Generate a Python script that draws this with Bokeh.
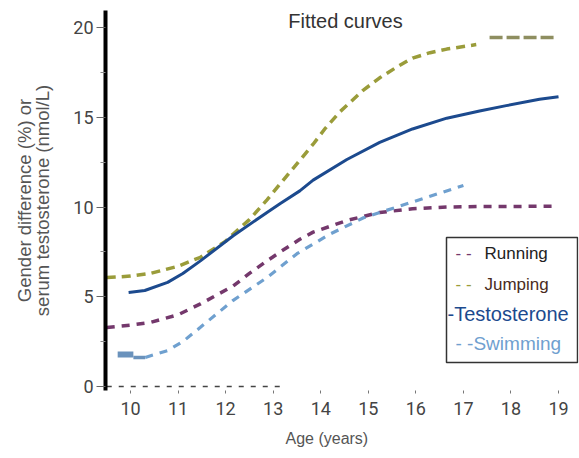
from bokeh.plotting import figure
from bokeh.models import Label, BoxAnnotation, FixedTicker, Range1d, LinearAxis, Title
from bokeh.embed import file_html
from bokeh.resources import INLINE

# ---- data ----
jump_age = [9.5, 10.0, 10.42, 11.0, 11.47, 12.0, 12.16, 12.5, 12.87, 13.15, 13.56, 13.84, 14.1, 14.4, 14.89, 15.24, 15.6, 15.93, 16.3, 16.65, 17.27]
jump_val = [6.07, 6.15, 6.3, 6.7, 7.2, 8.1, 8.5, 9.3, 10.4, 11.3, 12.6, 13.5, 14.4, 15.3, 16.5, 17.2, 17.8, 18.3, 18.6, 18.8, 19.05]
jump_tail_age = [17.55, 18.95]
jump_tail_val = [19.45, 19.45]

run_age = [9.5, 10.0, 10.42, 11.0, 11.47, 12.16, 12.5, 12.87, 13.15, 13.56, 13.84, 14.55, 15.24, 15.93, 16.65, 17.34, 18.0, 18.9]
run_val = [3.29, 3.42, 3.57, 4.0, 4.6, 5.6, 6.3, 7.0, 7.5, 8.2, 8.6, 9.25, 9.7, 9.9, 10.0, 10.03, 10.03, 10.05]

testo_age = [9.96, 10.3, 10.78, 11.1, 11.47, 12.16, 12.87, 13.15, 13.56, 13.84, 14.55, 15.24, 15.93, 16.65, 17.34, 17.9, 18.6, 19.0]
testo_val = [5.24, 5.35, 5.8, 6.3, 7.0, 8.4, 9.7, 10.2, 10.9, 11.5, 12.65, 13.6, 14.35, 14.95, 15.35, 15.65, 16.0, 16.15]

swim_bar_age = [9.73, 10.06]
swim_bar_val = [1.78, 1.78]
swim_step_age = [10.06, 10.31]
swim_step_val = [1.62, 1.62]
swim_age = [10.31, 10.78, 11.1, 11.47, 12.16, 12.87, 13.5, 14.2, 14.9, 15.6, 16.3, 17.0]
swim_val = [1.62, 2.0, 2.5, 3.3, 4.8, 6.07, 7.4, 8.5, 9.4, 10.0, 10.6, 11.2]

zero_age = [9.5, 13.2]
zero_val = [0, 0]

x_ticks = [10, 11, 12, 13, 14, 15, 16, 17, 18, 19]
y_ticks = [0, 5, 10, 15, 20]
y_minor = [2.5, 7.5, 12.5, 17.5]

C_JUMP = "#9a9c3a"
C_JUMP_TAIL = "#8e8e60"
C_RUN = "#74386c"
C_TESTO = "#1c4a8e"
C_SWIM = "#6fa0cf"
C_SWIM_BAR = "#6a92bc"

TICKF = "Roboto"
SANS = "Liberation Sans"

W, H = 579, 458
p = figure(width=W, height=H, output_backend="svg", toolbar_location=None,
           x_range=Range1d(9.474, 19.42), y_range=Range1d(-0.223, 20.95),
           min_border_left=105, min_border_right=1, min_border_top=10, min_border_bottom=68)
p.outline_line_color = None
p.grid.visible = False
p.background_fill_color = "white"
p.border_fill_color = "white"

# curves
p.line(zero_age, zero_val, color="#444444", line_width=1.3, line_dash="5 7")
p.line(jump_age, jump_val, color=C_JUMP, line_width=3.5, line_dash="9 6")
p.line(jump_tail_age, jump_tail_val, color=C_JUMP_TAIL, line_width=3.5, line_dash="13 4")
p.line(run_age, run_val, color=C_RUN, line_width=3.5, line_dash="8 7")
p.line(testo_age, testo_val, color=C_TESTO, line_width=3)
p.line(swim_bar_age, swim_bar_val, color=C_SWIM_BAR, line_width=6)
p.line(swim_step_age, swim_step_val, color=C_SWIM_BAR, line_width=3.5)
p.line(swim_age, swim_val, color=C_SWIM, line_width=3.2, line_dash="8 7")

# axes
xa = p.xaxis[0]
xa.ticker = FixedTicker(ticks=x_ticks)
xa.axis_line_color = None
xa.major_tick_in = 0
xa.major_tick_out = 3
xa.major_tick_line_color = "#777777"
xa.minor_tick_line_color = None
xa.major_label_text_font = TICKF
xa.major_label_text_font_size = "18px"
xa.major_label_text_color = "#444444"
xa.major_label_standoff = 8

# x-axis caption (sits left of centre in the reference)
p.add_layout(Title(text="Age  (years)", align="left", offset=180, standoff=20,
                   text_font=SANS, text_font_style="normal", text_font_size="16px",
                   text_color="#555555"), "below")

ya = p.yaxis[0]
ya.ticker = FixedTicker(ticks=y_ticks, minor_ticks=y_minor)
ya.axis_line_color = "black"
ya.axis_line_width = 4
ya.major_tick_in = 0
ya.major_tick_out = 9
ya.major_tick_line_color = "#666666"
ya.minor_tick_in = 0
ya.minor_tick_out = 5
ya.minor_tick_line_color = "#888888"
ya.major_label_text_font = TICKF
ya.major_label_text_font_size = "18px"
ya.major_label_text_color = "#444444"
ya.major_label_standoff = 3
ya.axis_label = "serum testosterone (nmol/L)"
ya.axis_label_text_font = SANS
ya.axis_label_text_font_style = "normal"
ya.axis_label_text_font_size = "18.5px"
ya.axis_label_text_color = "#555555"
ya.axis_label_standoff = 17

# outer label line, carried by a bare second left axis
ya2 = LinearAxis(axis_label="Gender difference (%) or", axis_line_color=None,
                 major_tick_line_color=None, minor_tick_line_color=None,
                 major_label_text_font_size="0px", major_label_standoff=0,
                 ticker=FixedTicker(ticks=[]))
ya2.axis_label_text_font = SANS
ya2.axis_label_text_font_style = "normal"
ya2.axis_label_text_font_size = "18.5px"
ya2.axis_label_text_color = "#555555"
ya2.axis_label_standoff = -5
p.add_layout(ya2, "left")

# texts inside the frame (screen units are measured from the frame's bottom-left corner)
def lab(text, x, y, size, color, font=SANS, align="left"):
    p.add_layout(Label(x=x, y=y, x_units="screen", y_units="screen", text=text,
                       text_font=font, text_font_size=size, text_color=color,
                       text_align=align, text_baseline="middle"))

lab("Fitted curves", 240, 370, "20px", "#333333", align="center")

# legend box
p.add_layout(BoxAnnotation(left=341, right=472, top=153, bottom=28,
                           left_units="screen", right_units="screen",
                           top_units="screen", bottom_units="screen",
                           fill_color="white", fill_alpha=1.0,
                           line_color="#333333", line_alpha=1.0, line_width=1.5,
                           level="underlay"))
lab("- -", 350, 137, "17px", C_RUN)
lab("Running", 379, 137, "17px", "#222222")
lab("- -", 350, 106, "17px", C_JUMP)
lab("Jumping", 379, 106, "17px", "#4a2c1e")
lab("-Testosterone", 342, 77, "20px", C_TESTO)
lab("- -Swimming", 350, 47, "19px", C_SWIM)

open("out.html", "w").write(file_html(p, INLINE))
